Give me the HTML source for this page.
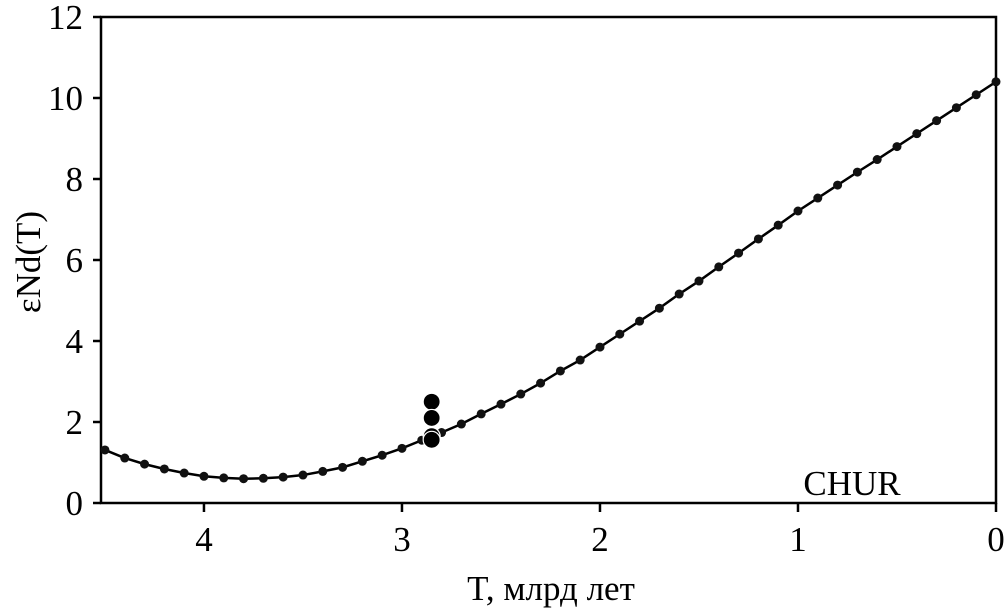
<!DOCTYPE html>
<html><head><meta charset="utf-8"><style>
html,body{margin:0;padding:0;background:#fff;}
svg text{font-family:"Liberation Serif","DejaVu Serif",serif;fill:#000;}
</style></head><body>
<svg id="chart" width="1008" height="608" viewBox="0 0 1008 608" xmlns="http://www.w3.org/2000/svg">
<rect x="101" y="17" width="895" height="486" fill="none" stroke="#000" stroke-width="2.5"/>
<g id="ticks"></g>
<path id="curve" fill="none" stroke="#000" stroke-width="2.5"/>
<g id="dots"></g>
<g id="samples"></g>
<text x="852" y="495" font-size="35" text-anchor="middle">CHUR</text>
<text x="551" y="600" font-size="35" text-anchor="middle">T, млрд лет</text>
<text transform="translate(40,262) rotate(-90)" font-size="35" text-anchor="middle">εNd(T)</text>
</svg>
<script>
const churT = [4.5,4.4,4.3,4.2,4.1,4.0,3.9,3.8,3.7,3.6,3.5,3.4,3.3,3.2,3.1,3.0,2.9,2.8,2.7,2.6,2.5,2.4,2.3,2.2,2.1,2.0,1.9,1.8,1.7,1.6,1.5,1.4,1.3,1.2,1.1,1.0,0.9,0.8,0.7,0.6,0.5,0.4,0.3,0.2,0.1,0.0];
const churE = [1.31,1.11,0.96,0.84,0.74,0.66,0.62,0.60,0.61,0.64,0.69,0.78,0.88,1.03,1.18,1.35,1.55,1.74,1.95,2.20,2.44,2.69,2.96,3.26,3.53,3.85,4.17,4.49,4.81,5.16,5.48,5.83,6.17,6.52,6.86,7.21,7.53,7.85,8.17,8.48,8.80,9.12,9.44,9.76,10.08,10.40];
const sampleT = [2.85,2.85,2.85,2.85];
const sampleE = [1.65,2.50,2.10,1.56];
const xTicks = [4,3,2,1,0];
const yTicks = [0,2,4,6,8,10,12];
const NS='http://www.w3.org/2000/svg';
const xS = t => 996 - t*(996-101)/4.52;
const yS = v => 503 - v*(503-17)/12;
const tg=document.getElementById('ticks');
function mk(tag,attrs,parent){const e=document.createElementNS(NS,tag);for(const k in attrs)e.setAttribute(k,attrs[k]);parent.appendChild(e);return e;}
xTicks.forEach(t=>{
  const l=mk('line',{x1:xS(t),x2:xS(t),y1:503,y2:512,stroke:'#000','stroke-width':2.5},tg);
  
  
  const tx=mk('text',{x:xS(t),y:551,'font-size':35,'text-anchor':'middle'},tg);tx.textContent=t;
  
  
});
yTicks.forEach(v=>{
  const l=mk('line',{x1:93,x2:101,y1:yS(v),y2:yS(v),stroke:'#000','stroke-width':2.5},tg);
  
  
  const tx=mk('text',{x:83,y:yS(v)+12,'font-size':35,'text-anchor':'end'},tg);tx.textContent=v;
  
  
});
document.getElementById('curve').setAttribute('d',churT.map((t,i)=>(i?'L':'M')+xS(t)+' '+yS(churE[i])).join(' '));
const dg=document.getElementById('dots');
churT.forEach((t,i)=>{
  const c=mk('circle',{cx:xS(t),cy:yS(churE[i]),r:4.5,fill:'#111'},dg);
  
  
});
const sg=document.getElementById('samples');
sampleT.forEach((t,i)=>{
  const c=mk('circle',{cx:xS(t),cy:yS(sampleE[i]),r:8.5,fill:'#000',stroke:'#fff','stroke-width':1.2},sg);
  
  
});
</script>
</body></html>
